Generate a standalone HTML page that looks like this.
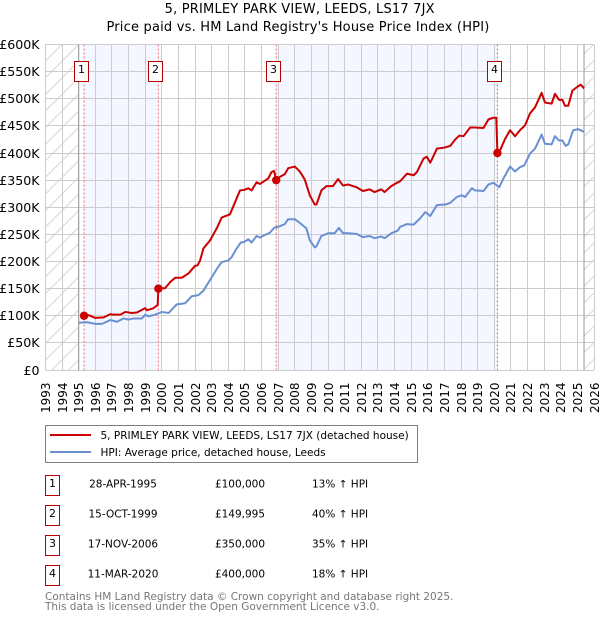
<!DOCTYPE html>
<html>
<head>
<meta charset="utf-8">
<style>
html,body{margin:0;padding:0;background:#fff;width:600px;height:620px;overflow:hidden}
svg{display:block;font-family:"DejaVu Sans","Liberation Sans",sans-serif}
text{fill:#000}
</style>
</head>
<body>
<svg id="chart" width="600" height="620" viewBox="0 0 600 620" xmlns="http://www.w3.org/2000/svg">
  <defs>
    <pattern id="hatch" patternUnits="userSpaceOnUse" x="45.5" y="44.5" width="16.6" height="16.6">
      <path d="M-1 17.6L17.6 -1" stroke="#d4d4d4" stroke-width="1" fill="none"/>
    </pattern>
    <clipPath id="plot-clip"><rect x="45.5" y="44.5" width="548.5" height="325.5"/></clipPath>
  </defs>
  <text x="299.7" y="13" font-size="13" letter-spacing="0.19" text-anchor="middle">5, PRIMLEY PARK VIEW, LEEDS, LS17 7JX</text>
  <text x="298" y="31" font-size="13" letter-spacing="0.2" text-anchor="middle">Price paid vs. HM Land Registry's House Price Index (HPI)</text>
  <g id="bands"></g>
  <g id="grid"></g>
  <g id="series" clip-path="url(#plot-clip)"></g>
  <g id="axes"></g>
  <g id="flags"></g>

  <rect x="45.5" y="425.5" width="372" height="37" fill="#fff" stroke="#808080" stroke-width="1"/>
  <line x1="50" x2="91" y1="435" y2="435" stroke="#cc0000" stroke-width="2"/>
  <text x="100.5" y="439" font-size="10.5">5, PRIMLEY PARK VIEW, LEEDS, LS17 7JX (detached house)</text>
  <line x1="50" x2="91" y1="452" y2="452" stroke="#6a90d2" stroke-width="2"/>
  <text x="100.5" y="456" font-size="10.5">HPI: Average price, detached house, Leeds</text>

  <g id="table"></g>

  <text x="45" y="600" font-size="10.5" style="fill:#777">Contains HM Land Registry data © Crown copyright and database right 2025.</text>
  <text x="45" y="610" font-size="10.5" style="fill:#777">This data is licensed under the Open Government Licence v3.0.</text>
</svg>
<script>
var yearTicks = [1993,1994,1995,1996,1997,1998,1999,2000,2001,2002,2003,2004,2005,2006,2007,2008,2009,2010,2011,2012,2013,2014,2015,2016,2017,2018,2019,2020,2021,2022,2023,2024,2025,2026];
var priceTicks = [0,50,100,150,200,250,300,350,400,450,500,550,600];

var redDates = [1995.32,1995.6,1996,1996.5,1996.9,1997,1997.5,1997.8,1998.2,1998.5,1999,1999.1,1999.5,1999.75,1999.79,2000.2,2000.5,2000.8,2001.2,2001.6,2002,2002.15,2002.3,2002.5,2002.9,2003.3,2003.6,2004.1,2004.7,2004.95,2005.2,2005.4,2005.7,2005.9,2006.2,2006.4,2006.6,2006.75,2006.88,2007.1,2007.4,2007.6,2008,2008.3,2008.6,2008.9,2009.2,2009.3,2009.6,2009.9,2010.3,2010.6,2010.9,2011.2,2011.7,2012.1,2012.5,2012.8,2013.2,2013.4,2013.8,2014.2,2014.34,2014.75,2015.15,2015.35,2015.75,2015.95,2016.15,2016.55,2017.0,2017.35,2017.65,2017.9,2018.15,2018.55,2018.85,2019.35,2019.65,2019.95,2020.12,2020.19,2020.35,2020.65,2020.95,2021.25,2021.55,2021.85,2022.15,2022.45,2022.85,2023.05,2023.45,2023.65,2023.9,2024.1,2024.25,2024.45,2024.7,2024.95,2025.2,2025.4];
var redValues = [100,101,96,97,103,102,102,107,105,106,114,110,114,120,150,151,162,170,170,178,192,193,202,224,239,261,281,287,331,332,335,331,346,343,349,353,365,367,350,356,361,372,375,366,351,322,305,305,331,339,339,352,340,342,337,330,333,328,333,328,339,346,348,362,359,365,390,393,382,408,410,413,425,432,431,447,447,446,462,465,465,400,405,426,442,431,442,451,473,484,511,493,491,509,498,498,487,487,515,521,526,519];

var blueDates = [1995,1995.5,1996,1996.4,1996.9,1997.3,1997.7,1998,1998.3,1998.8,1999,1999.2,1999.6,2000,2000.4,2000.9,2001.4,2001.8,2002.2,2002.5,2003.3,2003.6,2004,2004.2,2004.5,2004.75,2004.95,2005.2,2005.4,2005.7,2005.9,2006.2,2006.5,2006.75,2007.1,2007.4,2007.6,2008,2008.3,2008.7,2008.9,2009.2,2009.3,2009.6,2010,2010.4,2010.65,2010.9,2011.2,2011.7,2012.1,2012.5,2012.8,2013.2,2013.4,2013.8,2014.2,2014.34,2014.75,2015.15,2015.55,2015.85,2016.15,2016.55,2017.05,2017.35,2017.75,2018.05,2018.25,2018.65,2018.85,2019.35,2019.65,2019.95,2020.3,2020.55,2020.95,2021.25,2021.55,2021.8,2022.15,2022.45,2022.85,2023.05,2023.45,2023.65,2023.9,2024.1,2024.3,2024.45,2024.75,2025.05,2025.4];
var blueValues = [87,88,85,85,92,89,95,93,95,95,102,99,102,107,105,121,123,136,138,146,186,199,202,208,224,235,236,241,235,247,244,249,253,262,265,269,278,278,271,261,239,226,228,247,252,252,262,252,252,251,245,247,243,246,243,252,257,264,269,268,280,291,284,304,305,308,319,322,319,335,331,330,342,345,337,353,375,366,374,377,399,408,434,417,416,431,423,423,413,416,442,444,439];

var saleNumbers = ["1","2","3","4"];
var saleDates = [1995.32,1999.79,2006.88,2020.19];
var salePrices = [100,149.995,350,400];
var saleDateLabels = ["28-APR-1995","15-OCT-1999","17-NOV-2006","11-MAR-2020"];
var salePriceLabels = ["£100,000","£149,995","£350,000","£400,000"];
var saleHpiLabels = ["13% ↑ HPI","40% ↑ HPI","35% ↑ HPI","18% ↑ HPI"];

var dataStart = 1995;
var dataEnd = 2025.4;

var NS = 'http://www.w3.org/2000/svg';
var plotL = 45.5, plotR = 594, plotT = 44.5, plotB = 370;
function xScale(year){ return plotL + (year - 1993) * (plotR - plotL) / 33; }
function yScale(k){ return plotB - k * (plotB - plotT) / 600; }
function mk(tag, parent, attrs){
  var el = document.createElementNS(NS, tag);
  for (var k in attrs) el.setAttribute(k, attrs[k]);
  parent.appendChild(el);
  return el;
}
var bands = document.getElementById('bands');
var grid = document.getElementById('grid');
var series = document.getElementById('series');
var axes = document.getElementById('axes');
var flags = document.getElementById('flags');
var table = document.getElementById('table');

var hatchLeft = mk('rect', bands, {x: plotL, y: plotT, width: xScale(dataStart) - plotL, height: plotB - plotT, fill: 'url(#hatch)'});


var hatchRight = mk('rect', bands, {x: xScale(dataEnd), y: plotT, width: plotR - xScale(dataEnd), height: plotB - plotT, fill: 'url(#hatch)'});



for (var b = 0; b < saleDates.length; b += 2) {
  var band = mk('rect', bands, {x: xScale(saleDates[b]), y: plotT, width: xScale(saleDates[b + 1]) - xScale(saleDates[b]), height: plotB - plotT, fill: '#f4f7ff'});
  
  
}

yearTicks.forEach(function(y){
  var px = Math.round(xScale(y) - 0.5) + 0.5;
  var gl = mk('line', grid, {x1: px, x2: px, y1: plotT, y2: plotB, stroke: '#cccccc', 'stroke-width': 1});
  
  
  var t = mk('text', axes, {'font-size': 12, 'text-anchor': 'end', 'dominant-baseline': 'central', transform: 'translate(' + (px + 0.5) + ',382.5) rotate(-90)'});
  
  
  t.textContent = y;
});
priceTicks.forEach(function(v){
  var py = Math.round(yScale(v) - 0.5) + 0.5;
  var gl = mk('line', grid, {x1: plotL, x2: plotR, y1: py, y2: py, stroke: '#cccccc', 'stroke-width': 1});
  
  
  var t = mk('text', axes, {x: 39.5, y: py + 4.5, 'font-size': 12.6, 'text-anchor': 'end'});
  
  
  t.textContent = v === 0 ? '£0' : '£' + v + 'K';
});

[dataStart, dataEnd].forEach(function(y){
  var l = mk('line', grid, {x1: xScale(y), x2: xScale(y), y1: plotT, y2: plotB, stroke: '#999999', 'stroke-width': 1});
  
  
});

saleDates.forEach(function(d){
  var l = mk('line', grid, {x1: xScale(d), x2: xScale(d), y1: plotT, y2: plotB, stroke: '#ee6677', 'stroke-width': 1, 'stroke-dasharray': '2 2'});
  
  
});

function pathFrom(dates, values){
  return dates.map(function(d, i){ return xScale(d).toFixed(2) + ',' + yScale(values[i]).toFixed(2); }).join(' ');
}
var blueLine = mk('polyline', series, {points: pathFrom(blueDates, blueValues), fill: 'none', stroke: '#6a90d2', 'stroke-width': 2, 'stroke-linejoin': 'round'});


var redLine = mk('polyline', series, {points: pathFrom(redDates, redValues), fill: 'none', stroke: '#cc0000', 'stroke-width': 2, 'stroke-linejoin': 'round'});



saleDates.forEach(function(d, i){
  var m = mk('circle', series, {cx: xScale(d), cy: yScale(salePrices[i]), r: 4.2, fill: '#cc0000'});
  
  

  var cx = Math.round(xScale(d) - 3.4);
  var box = mk('rect', flags, {x: cx - 7 + 0.5, y: 61.5, width: 14, height: 20, fill: '#fff', stroke: '#b30000', 'stroke-width': 1});
  
  
  var ft = mk('text', flags, {x: cx + 0.5, y: 73, 'font-size': 11, 'text-anchor': 'middle'});
  
  
  ft.textContent = saleNumbers[i];

  var rowTop = 475.5 + i * 30;
  var rb = mk('rect', table, {x: 45.5, y: rowTop, width: 14, height: 20, fill: '#fff', stroke: '#b30000', 'stroke-width': 1});
  
  
  var rn = mk('text', table, {x: 52.5, y: rowTop + 11.5, 'font-size': 11, 'text-anchor': 'middle'});
  
  
  rn.textContent = saleNumbers[i];
  var rd = mk('text', table, {x: 123, y: rowTop + 12, 'font-size': 10.5, 'text-anchor': 'middle'});
  
  
  rd.textContent = saleDateLabels[i];
  var rp = mk('text', table, {x: 240, y: rowTop + 12, 'font-size': 10.5, 'text-anchor': 'middle'});
  
  
  rp.textContent = salePriceLabels[i];
  var rh = mk('text', table, {x: 312, y: rowTop + 12, 'font-size': 10.5});
  
  
  rh.textContent = saleHpiLabels[i];
});
</script>
</body>
</html>
